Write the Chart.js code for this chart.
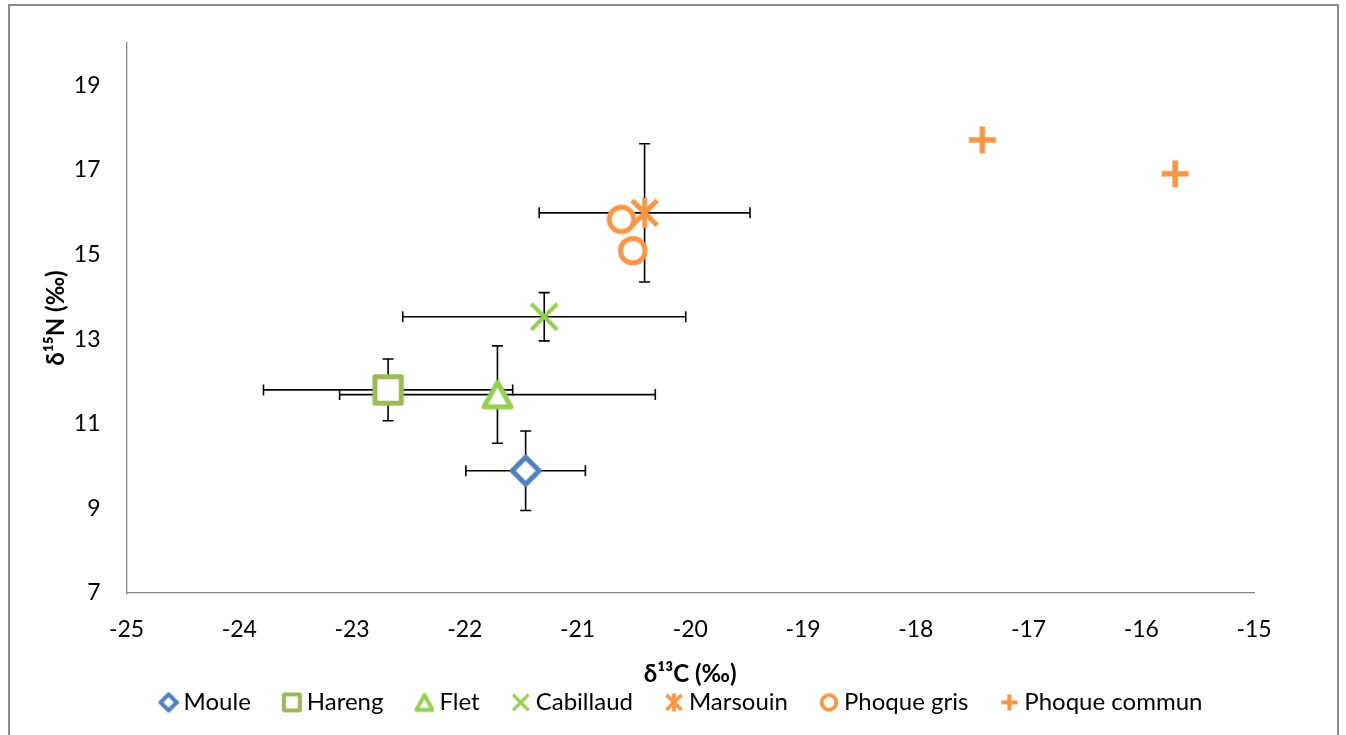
<!DOCTYPE html>
<html><head><meta charset="utf-8">
<script src="https://cdn.jsdelivr.net/npm/chart.js@4.4.1/dist/chart.umd.min.js"></script>
<style>
html,body{margin:0;padding:0;background:#fff;overflow:hidden}
#wrap{position:relative;width:1346px;height:735px}
#frame{position:absolute;left:8px;top:4px;width:1331px;height:760px;border:2px solid #8c8c8c;box-sizing:border-box}
canvas{position:absolute;left:0;top:0}
</style></head><body>
<div id="wrap"><div id="frame"></div><canvas id="c" width="1346" height="735"></canvas></div>
<script>
// ---- data ----
const seriesNames = ['Moule','Hareng','Flet','Cabillaud','Marsouin','Phoque gris','Phoque commun'];
const mouleX = [-21.46], mouleY = [9.89], mouleXErr = [0.53], mouleYErr = [0.94];
const harengX = [-22.68], harengY = [11.80], harengXErr = [1.105], harengYErr = [0.73];
const fletX = [-21.71], fletY = [11.69], fletXErr = [1.40], fletYErr = [1.15];
const cabillaudX = [-21.295], cabillaudY = [13.53], cabillaudXErr = [1.255], cabillaudYErr = [0.57];
const marsouinX = [-20.405], marsouinY = [15.985], marsouinXErr = [0.935], marsouinYErr = [1.635];
const phoqueGrisX = [-20.61, -20.51], phoqueGrisY = [15.83, 15.09];
const phoqueCommunX = [-17.41, -15.70], phoqueCommunY = [17.71, 16.91];
const xTicks = [-25,-24,-23,-22,-21,-20,-19,-18,-17,-16,-15];
const yTicks = [7,9,11,13,15,17,19];
const xTitle = 'δ¹³C (‰)';
const yTitle = 'δ¹⁵N (‰)';

// ---- styles ----
const colors = ['#4F81BD','#9BBB59','#92D050','#92D050','#F79646','#F79646','#F79646'];
const shapes = ['diamond','square','triangle','x','star','circle','plus'];
const LEG_BOX = 40;          // legend box width
const LEG_IMG = LEG_BOX + 14; // legend image width (marker drawn near its right end)
const LEG_SHIFT = 40;         // horizontal offset of the legend row

function drawShape(g, type, k) {
  g.beginPath();
  if (type === 'diamond') {
    const h = 13.5 * k;
    g.moveTo(0, -h); g.lineTo(h, 0); g.lineTo(0, h); g.lineTo(-h, 0); g.closePath();
    g.fill(); g.stroke();
  } else if (type === 'square') {
    const h = 13.2 * k;
    g.rect(-h, -h, 2 * h, 2 * h); g.fill(); g.stroke();
  } else if (type === 'triangle') {
    const w = 13.5 * k, h = 12.3 * k;
    g.moveTo(0, -h); g.lineTo(w, h); g.lineTo(-w, h); g.closePath();
    g.fill(); g.stroke();
  } else if (type === 'x') {
    const h = 13 * k;
    g.moveTo(-h, -h); g.lineTo(h, h); g.moveTo(h, -h); g.lineTo(-h, h); g.stroke();
  } else if (type === 'star') {
    const h = 12.5 * k, v = 15 * k;
    g.moveTo(-h, -h); g.lineTo(h, h); g.moveTo(h, -h); g.lineTo(-h, h);
    g.moveTo(0, -v); g.lineTo(0, v); g.stroke();
  } else if (type === 'circle') {
    g.arc(0, 0, 12.3 * k, 0, Math.PI * 2); g.fill(); g.stroke();
  } else if (type === 'plus') {
    const h = 13.5 * k;
    g.moveTo(-h, 0); g.lineTo(h, 0); g.moveTo(0, -h); g.lineTo(0, h); g.stroke();
  }
}
function marker(type, color, k, lw) {
  const S = 2 * Math.ceil(20 * k + lw);
  const c = document.createElement('canvas');
  c.width = S; c.height = S;
  const g = c.getContext('2d');
  g.translate(S / 2, S / 2);
  g.strokeStyle = color; g.fillStyle = '#fff';
  g.lineWidth = lw; g.lineJoin = 'round'; g.lineCap = 'butt';
  drawShape(g, type, k);
  return c;
}
function legendMarker(type, color, k, lw) {
  const c = document.createElement('canvas');
  c.width = LEG_IMG; c.height = 30;
  const g = c.getContext('2d');
  g.translate(LEG_IMG / 2 + LEG_BOX / 2 - 3, 15);
  g.strokeStyle = color; g.fillStyle = '#fff';
  g.lineWidth = lw; g.lineJoin = 'round'; g.lineCap = 'butt';
  drawShape(g, type, k);
  return c;
}
const plotLW = [5, 5, 5, 4, 5, 5, 5.5];
const legLW = [4, 4, 4, 3.2, 3.8, 3.8, 4.2];

const xs = [mouleX, harengX, fletX, cabillaudX, marsouinX, phoqueGrisX, phoqueCommunX];
const ys = [mouleY, harengY, fletY, cabillaudY, marsouinY, phoqueGrisY, phoqueCommunY];
const exs = [mouleXErr, harengXErr, fletXErr, cabillaudXErr, marsouinXErr, null, null];
const eys = [mouleYErr, harengYErr, fletYErr, cabillaudYErr, marsouinYErr, null, null];

const datasets = seriesNames.map((name, i) => ({
  label: name,
  data: xs[i].map((x, j) => ({x: x, y: ys[i][j]})),
  pointStyle: marker(shapes[i], colors[i], 1, plotLW[i]),
  legendMarker: legendMarker(shapes[i], colors[i], 0.6, legLW[i]),
  borderColor: colors[i],
  backgroundColor: '#fff',
  errX: exs[i], errY: eys[i],
  showLine: false,
  order: 10 - i
}));

const errorBars = {
  id: 'errorBars',
  beforeDatasetsDraw(chart) {
    const g = chart.ctx, sx = chart.scales.x, sy = chart.scales.y;
    g.save();
    g.strokeStyle = '#000'; g.lineWidth = 1.6; g.lineCap = 'butt';
    const cap = 5.5;
    chart.data.datasets.forEach(ds => {
      if (!ds.errX) return;
      ds.data.forEach((p, j) => {
        const px = sx.getPixelForValue(p.x), py = sy.getPixelForValue(p.y);
        const x1 = sx.getPixelForValue(p.x - ds.errX[j]), x2 = sx.getPixelForValue(p.x + ds.errX[j]);
        const y1 = sy.getPixelForValue(p.y + ds.errY[j]), y2 = sy.getPixelForValue(p.y - ds.errY[j]);
        g.beginPath();
        g.moveTo(x1, py); g.lineTo(x2, py);
        g.moveTo(x1, py - cap); g.lineTo(x1, py + cap);
        g.moveTo(x2, py - cap); g.lineTo(x2, py + cap);
        g.moveTo(px, y1); g.lineTo(px, y2);
        g.moveTo(px - cap, y1); g.lineTo(px + cap, y1);
        g.moveTo(px - cap, y2); g.lineTo(px + cap, y2);
        g.stroke();
      });
    });
    g.restore();
  }
};

const legendShift = {
  id: 'legendShift',
  afterLayout(chart) {
    if (chart.legend) { chart.legend.left += LEG_SHIFT; chart.legend.right += LEG_SHIFT; }
  }
};

Chart.defaults.font.family = 'Lato';
Chart.defaults.color = '#000';

new Chart(document.getElementById('c'), {
  type: 'scatter',
  data: {datasets: datasets},
  plugins: [errorBars, legendShift],
  options: {
    responsive: false,
    animation: false,
    layout: {padding: {left: 0, right: 92, top: 43, bottom: 10.6}},
    plugins: {
      tooltip: {enabled: false},
      legend: {
        position: 'bottom',
        labels: {
          usePointStyle: true,
          pointStyleWidth: LEG_BOX,
          padding: 4,
          font: {size: 24, lineHeight: 1.2},
          color: '#000',
          generateLabels: (chart) => chart.data.datasets.map((ds, i) => ({
            text: ds.label, pointStyle: ds.legendMarker, datasetIndex: i,
            fillStyle: '#fff', strokeStyle: ds.borderColor, lineWidth: 1, hidden: false, fontColor: '#000'
          }))
        }
      }
    },
    scales: {
      x: {
        type: 'linear', min: -25, max: -15,
        afterBuildTicks: s => { s.ticks = xTicks.map(v => ({value: v})); },
        afterFit: s => { s.height = 735 - 10.6 - 593 - s.chart.legend.height; },
        grid: {display: false, drawTicks: false},
        border: {display: true, color: '#868686', width: 1.3},
        ticks: {font: {size: 23}, padding: 23, color: '#000'},
        title: {display: true, text: xTitle, font: {size: 24, weight: 'bold'}, padding: {top: 0, bottom: -2}, color: '#000'}
      },
      y: {
        type: 'linear', min: 7, max: 20,
        afterBuildTicks: s => { s.ticks = yTicks.map(v => ({value: v})); },
        afterFit: s => { s.width = 126.5; },
        grid: {display: false, drawTicks: false},
        border: {display: true, color: '#868686', width: 1.3},
        ticks: {font: {size: 23}, padding: 26, color: '#000'},
        title: {display: true, text: yTitle, font: {size: 24, weight: 'bold'}, padding: {top: 42, bottom: 0}, color: '#000'}
      }
    }
  }
});
</script>
</body></html>
